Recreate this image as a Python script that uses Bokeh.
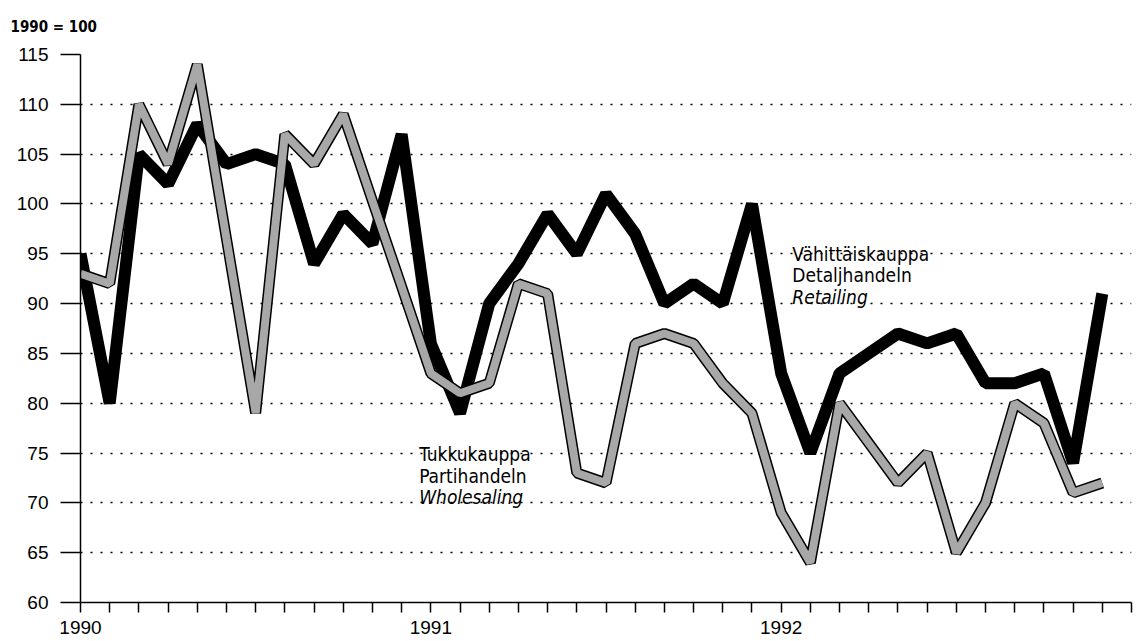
from bokeh.plotting import figure
from bokeh.models import FixedTicker, Label, Range1d
from bokeh.embed import file_html
from bokeh.resources import INLINE

# ---- data (monthly index, 1990 = 100) ----
months = list(range(36))  # Jan 1990 .. Dec 1992
retail = [95, 80, 105, 102, 108, 104, 105, 104, 94, 99, 96, 107,
          86, 79, 90, 94, 99, 95, 101, 97, 90, 92, 90, 100,
          83, 75, 83, 85, 87, 86, 87, 82, 82, 83, 74, 91]
wholesale = [93, 92, 110, 104, 114, 96.5, 79, 107, 104, 109, 100.3, 91.7,
             83, 81, 82, 92, 91, 73, 72, 86, 87, 86, 82, 79,
             69, 64, 80, 76, 72, 75, 65, 70, 80, 78, 71, 72]
year_labels = ["1990", "1991", "1992"]
year_positions = [0, 12, 24]
y_ticks = [60, 65, 70, 75, 80, 85, 90, 95, 100, 105, 110, 115]
retail_label = ["Vähittäiskauppa", "Detaljhandeln", "Retailing"]
wholesale_label = ["Tukkukauppa", "Partihandeln", "Wholesaling"]
unit_label = "1990 = 100"

NARROW = "DejaVu Sans Condensed, Liberation Sans"
SANS = "Liberation Sans"

p = figure(width=1139, height=641, output_backend="svg", toolbar_location=None,
           x_range=Range1d(0, 36), y_range=Range1d(60, 115),
           min_border_left=80, min_border_right=8, min_border_top=54,
           min_border_bottom=39)
p.outline_line_color = None
p.background_fill_color = "white"
p.border_fill_color = "white"

p.title.text = unit_label
p.title.align = "left"
p.title.vertical_align = "top"
p.title.offset = -70
p.title.standoff = 33
p.title.text_font = NARROW
p.title.text_font_size = "15px"
p.title.text_font_style = "bold"
p.title.text_color = "black"

# axes
xa = p.xaxis[0]
xa.ticker = FixedTicker(ticks=list(range(37)))
overrides = {m: "" for m in range(37)}
for pos, lab in zip(year_positions, year_labels):
    overrides[pos] = lab
xa.major_label_overrides = overrides
xa.major_tick_out = 10
xa.major_tick_in = 0
xa.minor_tick_line_color = None
xa.axis_line_width = 1.5
xa.axis_line_color = "black"
xa.major_tick_line_color = "black"
xa.major_tick_line_width = 1.5
xa.major_label_standoff = 8
xa.major_label_text_font = SANS
xa.major_label_text_font_size = "19px"
xa.major_label_text_color = "black"

ya = p.yaxis[0]
ya.ticker = FixedTicker(ticks=y_ticks)
ya.major_tick_out = 20
ya.major_tick_in = 0
ya.minor_tick_line_color = None
ya.axis_line_width = 1.5
ya.axis_line_color = "black"
ya.major_tick_line_color = "black"
ya.major_tick_line_width = 1.5
ya.major_label_standoff = 12
ya.major_label_text_font = SANS
ya.major_label_text_font_size = "19px"
ya.major_label_text_color = "black"

p.xgrid.grid_line_color = None
p.ygrid.ticker = FixedTicker(ticks=y_ticks[1:])
p.ygrid.grid_line_color = "black"
p.ygrid.grid_line_width = 1.5
p.ygrid.grid_line_dash = "2 8"

# series
p.line(months, retail, line_color="black", line_width=12, line_join="bevel")
p.line(months, wholesale, line_color="black", line_width=11, line_join="bevel")
p.line(months, wholesale, line_color="#a8a8a8", line_width=8, line_join="bevel")

# annotations
def add_block(x, ys, lines):
    for i, (yy, t) in enumerate(zip(ys, lines)):
        p.add_layout(Label(x=x, y=yy, text=t, text_font=NARROW,
                           text_font_size="19px", text_color="black",
                           text_baseline="alphabetic",
                           text_font_style="italic" if i == 2 else "normal"))

add_block(24.38, [95.0, 92.85, 90.66], retail_label)
add_block(11.6, [74.9, 72.73, 70.55], wholesale_label)

open("out.html", "w").write(file_html(p, INLINE))
